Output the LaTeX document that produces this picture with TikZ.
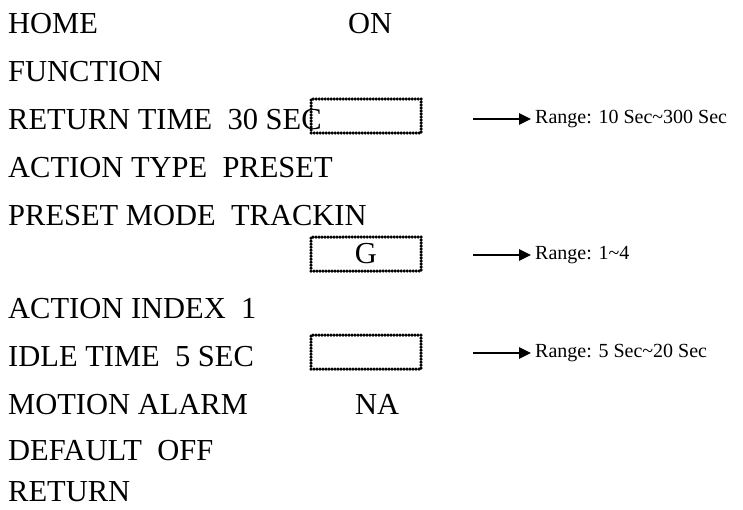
\documentclass[tikz,border=0pt]{standalone}
\usepackage{fontspec}
\setmainfont{Liberation Serif}
\usetikzlibrary{arrows.meta}
\begin{document}
\begin{tikzpicture}[x=1pt,y=-1pt,
  lbl/.style={anchor=base west,inner sep=0pt,font=\fontsize{30.5}{33}\selectfont},
  rng/.style={anchor=west,inner sep=0pt,font=\fontsize{20}{22}\selectfont},
  dbox/.style={draw,line width=3.5pt,line cap=round,dash pattern=on 0pt off 3pt,minimum width=110pt,minimum height=34pt,inner sep=0pt},
  arr/.style={-{Triangle[length=12pt,width=11pt]},line width=2.6pt,shorten >=4pt}]
\useasboundingbox (0,0) rectangle (743,509);
\node[lbl] (l1) at (8,33) {HOME};
\node[lbl] (on) at (348,33) {ON};
\node[lbl] (l2) at (8,81) {FUNCTION};
\node[lbl] (l3) at (8,129) {RETURN TIME\ \ 30 SEC};
\node[lbl] (l4) at (8,177) {ACTION TYPE\ \ PRESET};
\node[lbl] (l5) at (8,225) {PRESET MODE\ \ TRACKIN};
\node[lbl] (l7) at (8,318) {ACTION INDEX\ \ 1};
\node[lbl] (l8) at (8,366) {IDLE TIME\ \ 5 SEC};
\node[lbl] (l9) at (8,414) {MOTION ALARM};
\node[lbl] (na) at (355,414) {NA};
\node[lbl] (l10) at (8,460) {DEFAULT\ \ OFF};
\node[lbl] (l11) at (8,501) {RETURN};
\node[dbox] (b1) at (366,116) {};
\node[dbox,font=\fontsize{30.5}{33}\selectfont] (b2) at (366,254) {G};
\node[dbox] (b3) at (366,352) {};
\coordinate (a1) at (473,119);
\coordinate (a2) at (473,255);
\coordinate (a3) at (473,353);
\node[rng] (r1) at (535,119) {Range: 10 Sec\textasciitilde300 Sec};
\node[rng] (r2) at (535,255) {Range: 1\textasciitilde4};
\node[rng] (r3) at (535,353) {Range: 5 Sec\textasciitilde20 Sec};
\draw[arr] (a1) -- (r1.west);
\draw[arr] (a2) -- (r2.west);
\draw[arr] (a3) -- (r3.west);
\end{tikzpicture}
\end{document}
